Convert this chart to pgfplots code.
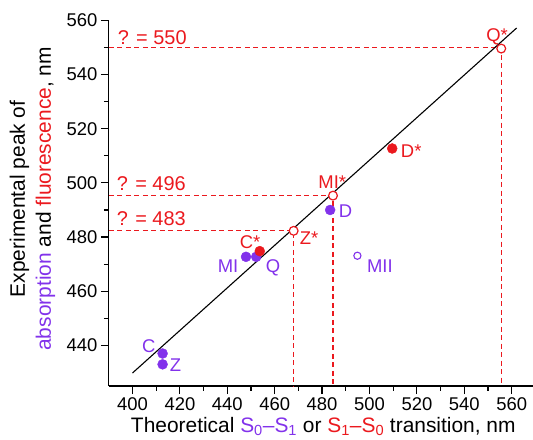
\documentclass[border=0pt]{standalone}
\usepackage{fontspec}
\setmainfont{Liberation Sans}
\usepackage{pgfplots}
\pgfplotsset{compat=1.18}

\definecolor{absc}{RGB}{130,50,235}
\definecolor{fluc}{RGB}{235,25,30}

\begin{document}
\begin{tikzpicture}[
  ptlab/.style={inner sep=0pt, font=\fontsize{18.5}{22}\selectfont},
  qlab/.style={inner sep=0pt, fluc, font=\fontsize{20}{24}\selectfont},
]
\begin{axis}[
  name=ax, at={(0,0)}, anchor=south west,
  scale only axis, width=424.2bp, height=365.6bp,
  xmin=390, xmax=569, ymin=425, ymax=560,
  axis x line*=bottom, axis y line*=left,
  axis line style={line width=1.4bp, -},
  xtick={400,420,...,560}, ytick={440,460,...,560},
  minor x tick num=1, minor y tick num=1,
  tick align=outside,
  major tick length=8bp, minor tick length=5bp,
  every tick/.style={line width=1.2bp, black},
  font=\fontsize{18}{21}\selectfont,
  tick label style={font=\fontsize{18.5}{21}\selectfont},
  /pgf/number format/assume math mode=true,
  /pgf/number format/1000 sep={},
  clip=false,
]
% dashed guide lines
\addplot[draw=fluc, line width=1.3bp, dash pattern=on 5bp off 3.5bp] coordinates {(390,550) (555.6,550) (555.6,425)};
\addplot[draw=fluc, line width=1.3bp, dash pattern=on 5bp off 3.5bp] coordinates {(390,495.3) (484.6,495.3) (484.6,425)};
\addplot[draw=fluc, line width=1.3bp, dash pattern=on 5bp off 3.5bp] coordinates {(390,482.3) (468,482.3) (468,425)};

% correlation line
\addplot[draw=black, line width=1.1bp] coordinates {(400,429.8) (562.1,557.2)};

% absorption, filled
\addplot[only marks, mark=*, mark size=5bp, mark options={draw=absc, fill=absc}] coordinates {
  (412.7,437.0) (412.7,433.0) (447.9,472.7) (452.2,472.7) (483.4,490.0)
};
% absorption, open
\addplot[only marks, mark=*, mark size=3.6bp, mark options={draw=absc, fill=white, line width=1.1bp}] coordinates {
  (494.9,473.1)
};
% fluorescence, filled
\addplot[only marks, mark=*, mark size=5bp, mark options={draw=fluc, fill=fluc}] coordinates {
  (453.7,474.8) (509.6,512.7)
};
% fluorescence, open
\addplot[only marks, mark=*, mark size=4.4bp, mark options={draw=fluc, fill=white, line width=1.2bp}] coordinates {
  (468.0,482.3) (484.6,495.3) (555.6,549.6)
};

% value labels
\node[qlab, anchor=base west] at (axis cs:393.7,551.2) {? = 550};
\node[qlab, anchor=base west] at (axis cs:393.3,497.1) {? = 496};
\node[qlab, anchor=base west] at (axis cs:393.3,484.1) {? = 483};

% point labels
\node[ptlab, fluc, anchor=base west] at (axis cs:549.2,552.2) {Q*};
\node[ptlab, fluc, anchor=base west] at (axis cs:513.2,509.3) {D*};
\node[ptlab, fluc, anchor=base west] at (axis cs:478.4,497.9) {MI*};
\node[ptlab, absc, anchor=base west] at (axis cs:487.0,487.2) {D};
\node[ptlab, fluc, anchor=base west] at (axis cs:470.5,477.4) {Z*};
\node[ptlab, fluc, anchor=base west] at (axis cs:445.2,475.8) {C*};
\node[ptlab, absc, anchor=base east] at (axis cs:444.7,467.0) {MI};
\node[ptlab, absc, anchor=base west] at (axis cs:456.2,467.0) {Q};
\node[ptlab, absc, anchor=base west] at (axis cs:498.9,467.0) {MII};
\node[ptlab, absc, anchor=base west] at (axis cs:404.0,437.4) {C};
\node[ptlab, absc, anchor=base west] at (axis cs:415.7,430.2) {Z};

% axis titles
\node[anchor=base, inner sep=0pt, font=\fontsize{21}{24}\selectfont, yshift=-46.5bp] at (axis cs:480.5,425)
  {Theoretical \textcolor{absc}{S\textsubscript{0}–S\textsubscript{1}} or \textcolor{fluc}{S\textsubscript{1}–S\textsubscript{0}} transition, nm};
\node[anchor=base, inner sep=0pt, font=\fontsize{21}{24}\selectfont, xshift=-84bp, rotate=90] at (axis cs:390,494.1)
  {Experimental peak of};
\node[anchor=base, inner sep=0pt, font=\fontsize{21}{24}\selectfont, xshift=-58bp, rotate=90] at (axis cs:390,494.1)
  {\textcolor{absc}{absorption} and \textcolor{fluc}{fluorescence}, nm};
\end{axis}
\pgfresetboundingbox
\useasboundingbox (-108.8bp,-54bp) rectangle (424.2bp,386bp);
\end{tikzpicture}
\end{document}
